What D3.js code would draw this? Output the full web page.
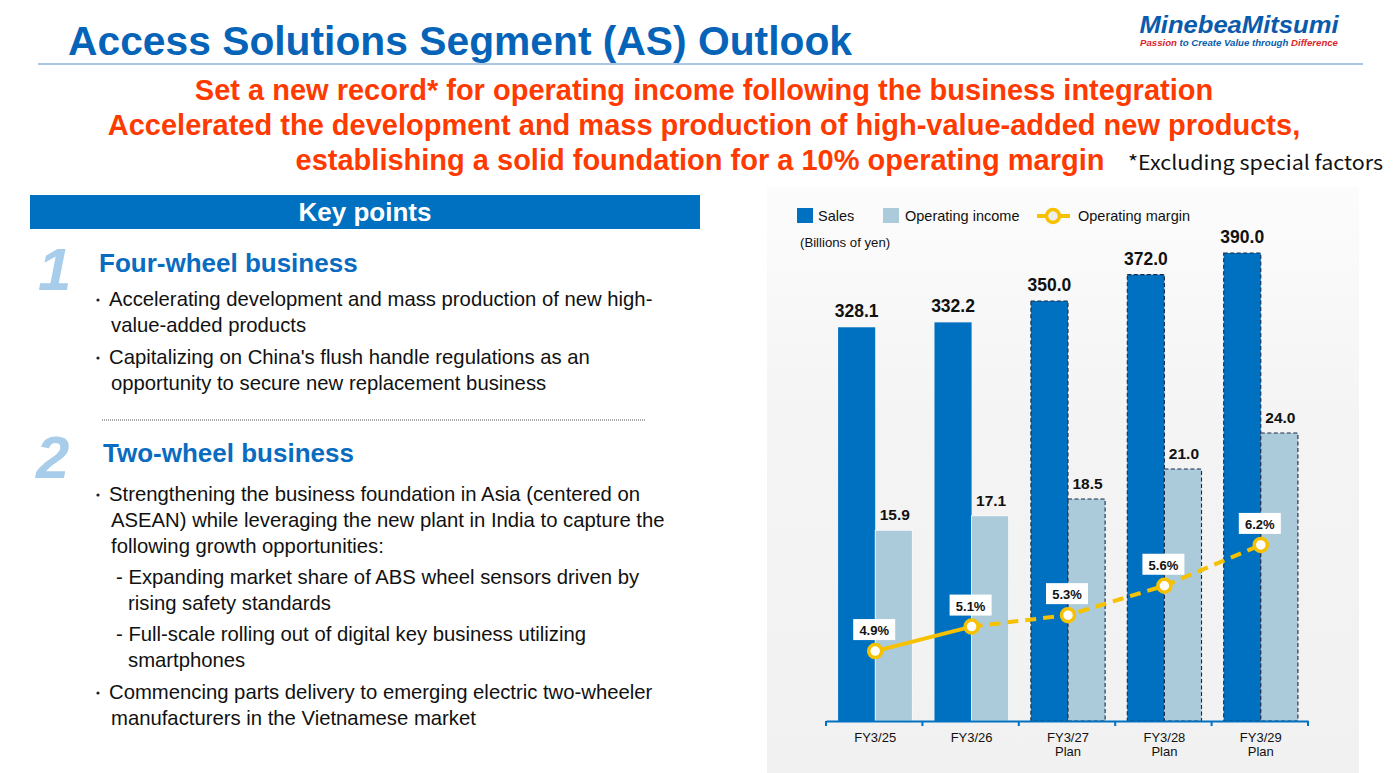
<!DOCTYPE html>
<html><head><meta charset="utf-8">
<script src="https://cdn.jsdelivr.net/npm/d3@7"></script>
<style>
html,body{margin:0;padding:0;background:#fff;}
svg{display:block;}
</style></head>
<body>
<svg id="chart" width="1400" height="773"></svg>
<script>
// ---- data ----
const categories = ["FY3/25", "FY3/26", "FY3/27", "FY3/28", "FY3/29"];
const categorySub = ["", "", "Plan", "Plan", "Plan"];
const isPlan = [false, false, true, true, true];
const sales = [328.1, 332.2, 350.0, 372.0, 390.0];
const salesLabels = ["328.1", "332.2", "350.0", "372.0", "390.0"];
const opIncome = [15.9, 17.1, 18.5, 21.0, 24.0];
const opIncomeLabels = ["15.9", "17.1", "18.5", "21.0", "24.0"];
const opMargin = [4.85, 5.15, 5.29, 5.65, 6.15];
const opMarginLabels = ["4.9%", "5.1%", "5.3%", "5.6%", "6.2%"];
const legendItems = ["Sales", "Operating income", "Operating margin"];

const svg = d3.select("#chart");
const FONT = "'Liberation Sans', Arial, sans-serif";
const BLUE = "#0070c0", LIGHT = "#abcbdb", YEL = "#f6c100", RED = "#ff3a00";

// ---- header ----
svg.append("text").attr("x", 68).attr("y", 55).attr("font-family", FONT).attr("font-weight", "bold")
  .attr("font-size", 41).attr("fill", "#0563b8").attr("textLength", 784).attr("lengthAdjust", "spacingAndGlyphs")
  .text("Access Solutions Segment (AS) Outlook");
svg.append("line").attr("x1", 38).attr("x2", 1363).attr("y1", 64).attr("y2", 64)
  .attr("stroke", "#8fb3dc").attr("stroke-width", 1.5);
// logo
svg.append("text").attr("x", 1239).attr("y", 32.5).attr("text-anchor", "middle").attr("font-family", FONT)
  .attr("font-weight", "bold").attr("font-style", "italic").attr("font-size", 23).attr("fill", "#0a5bab")
  .attr("textLength", 199).attr("lengthAdjust", "spacingAndGlyphs").text("MinebeaMitsumi");
const tag = svg.append("text").attr("x", 1239).attr("y", 46).attr("text-anchor", "middle").attr("font-family", FONT)
  .attr("font-weight", "bold").attr("font-style", "italic").attr("font-size", 8.8)
  .attr("textLength", 198).attr("lengthAdjust", "spacingAndGlyphs");
tag.append("tspan").attr("fill", "#d9262c").text("Passion");
tag.append("tspan").attr("fill", "#0a5bab").text(" to Create Value through ");
tag.append("tspan").attr("fill", "#d9262c").text("Difference");

// red headline
const redLines = [
  ["Set a new record* for operating income following the business integration", 704, 100],
  ["Accelerated the development and mass production of high-value-added new products,", 704, 135],
  ["establishing a solid foundation for a 10% operating margin", 700, 170]
];
redLines.forEach(([t, x, y]) => svg.append("text").attr("x", x).attr("y", y).attr("text-anchor", "middle")
  .attr("font-family", FONT).attr("font-weight", "bold").attr("font-size", 29).attr("fill", RED).text(t));
svg.append("text").attr("x", 1128).attr("y", 170).attr("font-family", "'Noto Sans CJK JP', 'DejaVu Sans', sans-serif")
  .attr("font-size", 20).attr("fill", "#111").attr("textLength", 255).attr("lengthAdjust", "spacingAndGlyphs")
  .text("*Excluding special factors");

// ---- left panel ----
svg.append("rect").attr("x", 30).attr("y", 195).attr("width", 670).attr("height", 34).attr("fill", BLUE);
svg.append("text").attr("x", 365).attr("y", 221).attr("text-anchor", "middle").attr("font-family", FONT)
  .attr("font-weight", "bold").attr("font-size", 26).attr("fill", "#fff").text("Key points");

function bigNum(t, x, y) {
  svg.append("text").attr("x", x).attr("y", y).attr("font-family", FONT).attr("font-weight", "bold")
    .attr("font-style", "italic").attr("font-size", 60).attr("fill", "#a8cdea").text(t);
}
bigNum("1", 38, 290);
bigNum("2", 36, 478);
function head(t, x, y) {
  svg.append("text").attr("x", x).attr("y", y).attr("font-family", FONT).attr("font-weight", "bold")
    .attr("font-size", 26).attr("fill", "#0a6cc0").text(t);
}
head("Four-wheel business", 99, 272);
head("Two-wheel business", 103, 462);

const bodyLines = [
  [true, 109, 306, "Accelerating development and mass production of new high-"],
  [false, 111, 332, "value-added products"],
  [true, 109, 364, "Capitalizing on China's flush handle regulations as an"],
  [false, 111, 390, "opportunity to secure new replacement business"],
  [true, 109, 501, "Strengthening the business foundation in Asia (centered on"],
  [false, 111, 527, "ASEAN) while leveraging the new plant in India to capture the"],
  [false, 111, 553, "following growth opportunities:"],
  [false, 116, 584, "- Expanding market share of ABS wheel sensors driven by"],
  [false, 128, 610, "rising safety standards"],
  [false, 116, 641, "- Full-scale rolling out of digital key business utilizing"],
  [false, 128, 667, "smartphones"],
  [true, 109, 699, "Commencing parts delivery to emerging electric two-wheeler"],
  [false, 111, 725, "manufacturers in the Vietnamese market"]
];
bodyLines.forEach(([b, x, y, t]) => {
  if (b) svg.append("circle").attr("cx", 98).attr("cy", y - 6).attr("r", 1.6).attr("fill", "#222");
  svg.append("text").attr("x", x).attr("y", y).attr("font-family", FONT).attr("font-size", 20.3)
    .attr("fill", "#111").text(t);
});
svg.append("line").attr("x1", 102).attr("x2", 645).attr("y1", 420).attr("y2", 420)
  .attr("stroke", "#555").attr("stroke-width", 1).attr("stroke-dasharray", "1,1");

// ---- chart panel ----
const defs = svg.append("defs");
const grad = defs.append("linearGradient").attr("id", "bg").attr("x1", 0).attr("y1", 0).attr("x2", 0).attr("y2", 1);
grad.append("stop").attr("offset", "0%").attr("stop-color", "#fcfcfc");
grad.append("stop").attr("offset", "40%").attr("stop-color", "#f4f4f4");
grad.append("stop").attr("offset", "100%").attr("stop-color", "#f1f1f1");
svg.append("rect").attr("x", 767).attr("y", 187).attr("width", 592).attr("height", 586).attr("fill", "url(#bg)");

const x = d3.scaleBand().domain(categories).range([826, 1308]).paddingInner(0).paddingOuter(0);
const bw = x.bandwidth();
const barW = bw * 0.385;
const ySales = d3.scaleLinear().domain([0, 390]).range([721, 253]);
const yOp = d3.scaleLinear().domain([0, 39]).range([721, 253]);
const yMargin = d3.scaleLinear().domain([4, 7]).range([720.5, 475.5]);
const cx = c => x(c) + bw / 2 + 1;

const g = svg.append("g");
// sales bars
g.selectAll("rect.sales").data(categories).join("rect").attr("class", "sales")
  .attr("x", c => cx(c) - barW).attr("width", barW)
  .attr("y", (c, i) => ySales(sales[i])).attr("height", (c, i) => ySales(0) - ySales(sales[i]))
  .attr("fill", BLUE)
  .attr("stroke", (c, i) => isPlan[i] ? "#1a2a44" : "none").attr("stroke-width", 1.1)
  .attr("stroke-dasharray", "4,2.5");
g.selectAll("rect.op").data(categories).join("rect").attr("class", "op")
  .attr("x", c => cx(c)).attr("width", barW)
  .attr("y", (c, i) => yOp(opIncome[i])).attr("height", (c, i) => yOp(0) - yOp(opIncome[i]))
  .attr("fill", LIGHT)
  .attr("stroke", (c, i) => isPlan[i] ? "#1a2a44" : "#ffffff").attr("stroke-width", (c, i) => isPlan[i] ? 1.1 : 0.8)
  .attr("stroke-dasharray", (c, i) => isPlan[i] ? "4,2.5" : null);

// value labels
g.selectAll("text.sl").data(categories).join("text").attr("class", "sl")
  .attr("x", c => cx(c) - barW / 2).attr("y", (c, i) => ySales(sales[i]) - 10)
  .attr("text-anchor", "middle").attr("font-family", FONT).attr("font-weight", "bold").attr("font-size", 17.5)
  .attr("fill", "#111").text((c, i) => salesLabels[i]);
g.selectAll("text.ol").data(categories).join("text").attr("class", "ol")
  .attr("x", c => cx(c) + barW / 2 + 1).attr("y", (c, i) => yOp(opIncome[i]) - 10)
  .attr("text-anchor", "middle").attr("font-family", FONT).attr("font-weight", "bold").attr("font-size", 15.5)
  .attr("fill", "#111").text((c, i) => opIncomeLabels[i]);

// axis
const axis = d3.axisBottom(x).tickSize(0).tickFormat("");
const ax = svg.append("g").attr("transform", "translate(0,721)").call(axis);
ax.select(".domain").attr("stroke", BLUE).attr("stroke-width", 2.2);
const bounds = categories.map(c => x(c)).concat([x.range()[1]]);
svg.selectAll("line.tk").data(bounds).join("line").attr("class", "tk")
  .attr("x1", d => d).attr("x2", d => d).attr("y1", 721).attr("y2", 726)
  .attr("stroke", BLUE).attr("stroke-width", 2);
svg.selectAll("text.xl").data(categories).join("text").attr("class", "xl")
  .attr("x", c => cx(c)).attr("y", 742).attr("text-anchor", "middle")
  .attr("font-family", FONT).attr("font-size", 13).attr("fill", "#111").text(c => c);
svg.selectAll("text.xl2").data(categories).join("text").attr("class", "xl2")
  .attr("x", c => cx(c)).attr("y", 756).attr("text-anchor", "middle")
  .attr("font-family", FONT).attr("font-size", 13).attr("fill", "#111").text((c, i) => categorySub[i]);

// margin line
const pts = categories.map((c, i) => [cx(c), yMargin(opMargin[i])]);
const lineGen = d3.line();
g.append("path").attr("d", lineGen(pts.slice(0, 2))).attr("fill", "none").attr("stroke", YEL).attr("stroke-width", 4);
g.append("path").attr("d", lineGen(pts.slice(1))).attr("fill", "none").attr("stroke", YEL).attr("stroke-width", 4)
  .attr("stroke-dasharray", "11,7");
g.selectAll("circle.mk").data(pts).join("circle").attr("class", "mk")
  .attr("cx", d => d[0]).attr("cy", d => d[1]).attr("r", 6.5)
  .attr("fill", "#fff").attr("stroke", YEL).attr("stroke-width", 3.5);
const lab = g.selectAll("g.ml").data(pts).join("g").attr("class", "ml")
  .attr("transform", d => `translate(${d[0] - 1},${d[1] - 21})`);
lab.append("rect").attr("x", -21).attr("y", -11).attr("width", 42).attr("height", 21).attr("fill", "#fff");
lab.append("text").attr("text-anchor", "middle").attr("y", 5).attr("font-family", FONT)
  .attr("font-weight", "bold").attr("font-size", 13).attr("fill", "#111").text((d, i) => opMarginLabels[i]);

// legend
const lg = svg.append("g").attr("font-family", FONT).attr("font-size", 14.5).attr("fill", "#111");
lg.append("rect").attr("x", 797).attr("y", 208).attr("width", 16).attr("height", 15).attr("fill", BLUE);
lg.append("text").attr("x", 818).attr("y", 221).text(legendItems[0]);
lg.append("rect").attr("x", 883).attr("y", 208).attr("width", 16).attr("height", 15).attr("fill", LIGHT);
lg.append("text").attr("x", 905).attr("y", 221).text(legendItems[1]);
lg.append("line").attr("x1", 1037).attr("x2", 1070).attr("y1", 216).attr("y2", 216).attr("stroke", YEL).attr("stroke-width", 4);
lg.append("circle").attr("cx", 1053).attr("cy", 216).attr("r", 6.5).attr("fill", "#eee").attr("stroke", YEL).attr("stroke-width", 3.5);
lg.append("text").attr("x", 1078).attr("y", 221).text(legendItems[2]);
svg.append("text").attr("x", 800).attr("y", 247).attr("font-family", FONT).attr("font-size", 13.2)
  .attr("fill", "#111").text("(Billions of yen)");
</script>
</body></html>
